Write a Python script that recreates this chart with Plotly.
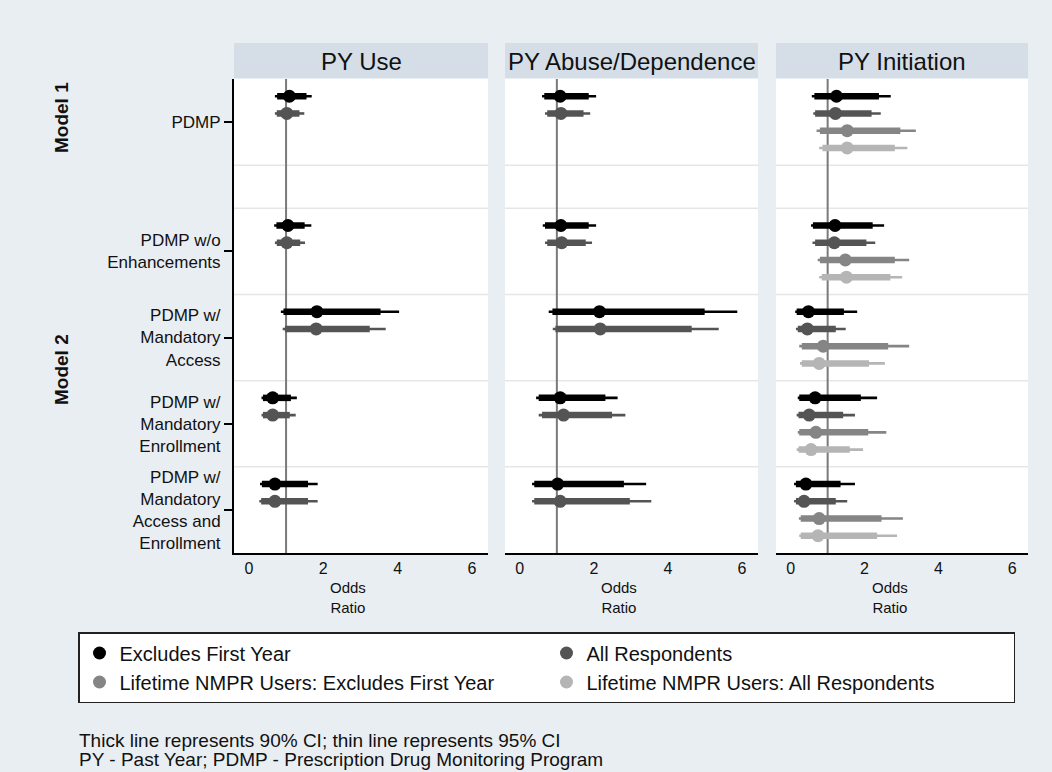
import plotly.graph_objects as go

# ---------------- data ----------------
groups = ["PDMP", "PDMP w/o<br>Enhancements", "PDMP w/<br>Mandatory<br>Access",
          "PDMP w/<br>Mandatory<br>Enrollment", "PDMP w/<br>Mandatory<br>Access and<br>Enrollment"]
outcomes = ["PY Use", "PY Abuse/Dependence", "PY Initiation"]
series_names = ["Excludes First Year", "All Respondents",
                "Lifetime NMPR Users: Excludes First Year", "Lifetime NMPR Users: All Respondents"]
x_ticks = [0, 2, 4, 6]

# PY Use  (series: Excludes First Year, All Respondents)
use_or   = [[1.09, 1.05, 1.83, 0.64, 0.70], [1.02, 1.02, 1.81, 0.64, 0.70]]
use_lo90 = [[0.76, 0.74, 0.93, 0.38, 0.35], [0.75, 0.75, 0.97, 0.38, 0.33]]
use_hi90 = [[1.55, 1.50, 3.54, 1.13, 1.59], [1.36, 1.38, 3.25, 1.10, 1.59]]
use_lo95 = [[0.70, 0.68, 0.86, 0.34, 0.30], [0.70, 0.70, 0.91, 0.34, 0.28]]
use_hi95 = [[1.69, 1.68, 4.04, 1.29, 1.85], [1.49, 1.51, 3.68, 1.26, 1.85]]

# PY Abuse/Dependence
abu_or   = [[1.09, 1.11, 2.15, 1.09, 1.02], [1.11, 1.13, 2.17, 1.18, 1.09]]
abu_lo90 = [[0.66, 0.68, 0.88, 0.51, 0.39], [0.74, 0.74, 0.96, 0.60, 0.39]]
abu_hi90 = [[1.86, 1.86, 4.99, 2.31, 2.81], [1.72, 1.78, 4.64, 2.49, 2.97]]
abu_lo95 = [[0.60, 0.62, 0.78, 0.44, 0.33], [0.68, 0.68, 0.89, 0.51, 0.33]]
abu_hi95 = [[2.06, 2.06, 5.87, 2.64, 3.41], [1.90, 1.95, 5.37, 2.85, 3.55]]

# PY Initiation (all four series)
ini_or   = [[1.24, 1.20, 0.48, 0.66, 0.41], [1.21, 1.18, 0.45, 0.50, 0.36],
            [1.53, 1.48, 0.88, 0.68, 0.77], [1.53, 1.51, 0.77, 0.55, 0.74]]
ini_lo90 = [[0.64, 0.60, 0.16, 0.23, 0.14], [0.66, 0.66, 0.19, 0.21, 0.14],
            [0.79, 0.79, 0.30, 0.23, 0.27], [0.86, 0.84, 0.30, 0.21, 0.27]]
ini_hi90 = [[2.39, 2.22, 1.44, 1.90, 1.35], [2.19, 2.05, 1.22, 1.42, 1.22],
            [2.97, 2.82, 2.64, 2.10, 2.46], [2.82, 2.70, 2.12, 1.60, 2.34]]
ini_lo95 = [[0.57, 0.55, 0.12, 0.19, 0.09], [0.61, 0.59, 0.14, 0.16, 0.09],
            [0.70, 0.73, 0.23, 0.19, 0.22], [0.77, 0.77, 0.25, 0.16, 0.23]]
ini_hi95 = [[2.71, 2.53, 1.80, 2.34, 1.74], [2.44, 2.29, 1.49, 1.74, 1.53],
            [3.39, 3.21, 3.21, 2.59, 3.04], [3.16, 3.02, 2.55, 1.96, 2.88]]

# ---------------- styling / layout constants ----------------
W, H = 1052, 772
FONT = "Liberation Sans, Arial, Helvetica, sans-serif"
colors = ["#000000", "#545454", "#858585", "#b5b5b5"]
group_top = [0, 7.5, 12.5, 17.5, 22.5]
panel_px = [(234, 488), (505, 758), (776, 1028)]
plot_top_px, plot_bot_px = 79, 553
head_top_px = 43

def px_x(p):
    return p / W

def px_y(p):
    return 1 - p / H

panels = [
    (use_or, use_lo90, use_hi90, use_lo95, use_hi95),
    (abu_or, abu_lo90, abu_hi90, abu_lo95, abu_hi95),
    (ini_or, ini_lo90, ini_hi90, ini_lo95, ini_hi95),
]

fig = go.Figure()
legend_done = set()

for pi, (orv, lo90, hi90, lo95, hi95) in enumerate(panels):
    sfx = "" if pi == 0 else str(pi + 1)
    xa, ya = "x" + sfx, "y" + sfx
    for s in range(len(orv)):
        ys = [group_top[g] + 1 + s for g in range(len(groups))]
        tx, ty, kx, ky = [], [], [], []
        for g in range(len(groups)):
            tx += [lo95[s][g], hi95[s][g], None]
            ty += [ys[g], ys[g], None]
            kx += [lo90[s][g], hi90[s][g], None]
            ky += [ys[g], ys[g], None]
        fig.add_trace(go.Scatter(x=tx, y=ty, mode="lines", xaxis=xa, yaxis=ya,
                                 line=dict(color=colors[s], width=2.6),
                                 showlegend=False, hoverinfo="skip"))
        fig.add_trace(go.Scatter(x=kx, y=ky, mode="lines", xaxis=xa, yaxis=ya,
                                 line=dict(color=colors[s], width=6.5),
                                 showlegend=False, hoverinfo="skip"))
        show = s not in legend_done
        legend_done.add(s)
        fig.add_trace(go.Scatter(x=orv[s], y=ys, mode="markers", xaxis=xa, yaxis=ya,
                                 marker=dict(color=colors[s], size=13, symbol="circle"),
                                 name=series_names[s], showlegend=show,
                                 legendrank=s + 1))

shapes = []
annotations = []
grid_vals = [5, 7.5, 12.5, 17.5, 22.5]
for pi, (l, r) in enumerate(panel_px):
    sfx = "" if pi == 0 else str(pi + 1)
    # header strip
    shapes.append(dict(type="rect", xref="paper", yref="paper",
                       x0=px_x(l), x1=px_x(r), y0=px_y(plot_top_px - 1), y1=px_y(head_top_px),
                       fillcolor="#d5dee7", line=dict(width=0), layer="below"))
    annotations.append(dict(text=outcomes[pi], xref="paper", yref="paper",
                            x=px_x((l + r) / 2), y=px_y((head_top_px + plot_top_px) / 2),
                            xanchor="center", yanchor="middle", showarrow=False,
                            font=dict(size=24, color="#111111", family=FONT)))
    # horizontal separators
    for gv in grid_vals:
        shapes.append(dict(type="line", xref="x" + sfx + " domain", yref="y" + sfx,
                           x0=0, x1=1, y0=gv, y1=gv,
                           line=dict(color="#e4e7ea", width=1.5), layer="below"))
    # reference line at OR = 1
    shapes.append(dict(type="line", xref="x" + sfx, yref="y" + sfx + " domain",
                       x0=1, x1=1, y0=0, y1=1,
                       line=dict(color="#7a7a7a", width=2), layer="below"))
    # axis title
    annotations.append(dict(text="Odds<br>Ratio", xref="paper", yref="paper",
                            x=px_x(l + 114), y=px_y(597), xanchor="center", yanchor="middle",
                            showarrow=False, font=dict(size=15, color="#111111", family=FONT)))

annotations.append(dict(text="<b>Model 1</b>", xref="paper", yref="paper", x=px_x(62), y=px_y(118),
                        textangle=-90, showarrow=False, xanchor="center", yanchor="middle",
                        font=dict(size=19, color="#111111", family=FONT)))
annotations.append(dict(text="<b>Model 2</b>", xref="paper", yref="paper", x=px_x(62), y=px_y(370),
                        textangle=-90, showarrow=False, xanchor="center", yanchor="middle",
                        font=dict(size=19, color="#111111", family=FONT)))
annotations.append(dict(text="Thick line represents 90% CI; thin line represents 95% CI",
                        xref="paper", yref="paper", x=px_x(77), y=px_y(740),
                        xanchor="left", yanchor="middle", showarrow=False,
                        font=dict(size=19, color="#111111", family=FONT)))
annotations.append(dict(text="PY - Past Year; PDMP - Prescription Drug Monitoring Program",
                        xref="paper", yref="paper", x=px_x(77), y=px_y(759),
                        xanchor="left", yanchor="middle", showarrow=False,
                        font=dict(size=19, color="#111111", family=FONT)))

ydom = [px_y(plot_bot_px), px_y(plot_top_px)]
layout = dict(
    width=W, height=H,
    margin=dict(l=0, r=0, t=0, b=0),
    paper_bgcolor="#e9eef3", plot_bgcolor="#ffffff",
    font=dict(family=FONT, color="#111111"),
    shapes=shapes, annotations=annotations,
    legend=dict(orientation="h", x=px_x(78), y=px_y(632), xanchor="left", yanchor="top",
                bgcolor="#ffffff", bordercolor="#222222", borderwidth=1.5,
                entrywidth=422, font=dict(size=20, color="#111111", family=FONT),
                itemclick=False, itemdoubleclick=False),
)
for pi, (l, r) in enumerate(panel_px):
    sfx = "" if pi == 0 else str(pi + 1)
    layout["xaxis" + sfx] = dict(domain=[px_x(l), px_x(r)], range=[-0.4, 6.43],
                                 tickvals=x_ticks, ticktext=[str(v) for v in x_ticks],
                                 ticks="", showgrid=False, zeroline=False,
                                 showline=True, linecolor="#000000", linewidth=2,
                                 anchor="y" + sfx, fixedrange=True,
                                 tickfont=dict(size=16, color="#111111"))
    yax = dict(domain=ydom, range=[27.5, 0], showgrid=False, zeroline=False,
               anchor="x" + sfx, fixedrange=True)
    if pi == 0:
        yax.update(tickvals=[t + 2.5 for t in group_top], ticktext=groups,
                   ticks="outside", ticklen=8, tickwidth=1.5, tickcolor="#000000",
                   showline=True, linecolor="#000000", linewidth=2,
                   tickfont=dict(size=17, color="#111111"))
    else:
        yax.update(showticklabels=False, showline=False, matches="y")
    layout["yaxis" + sfx] = yax

fig.update_layout(**layout)
fig.write_html("out.html", config={"displayModeBar": False},
               post_script="document.body.style.margin='0px';")
